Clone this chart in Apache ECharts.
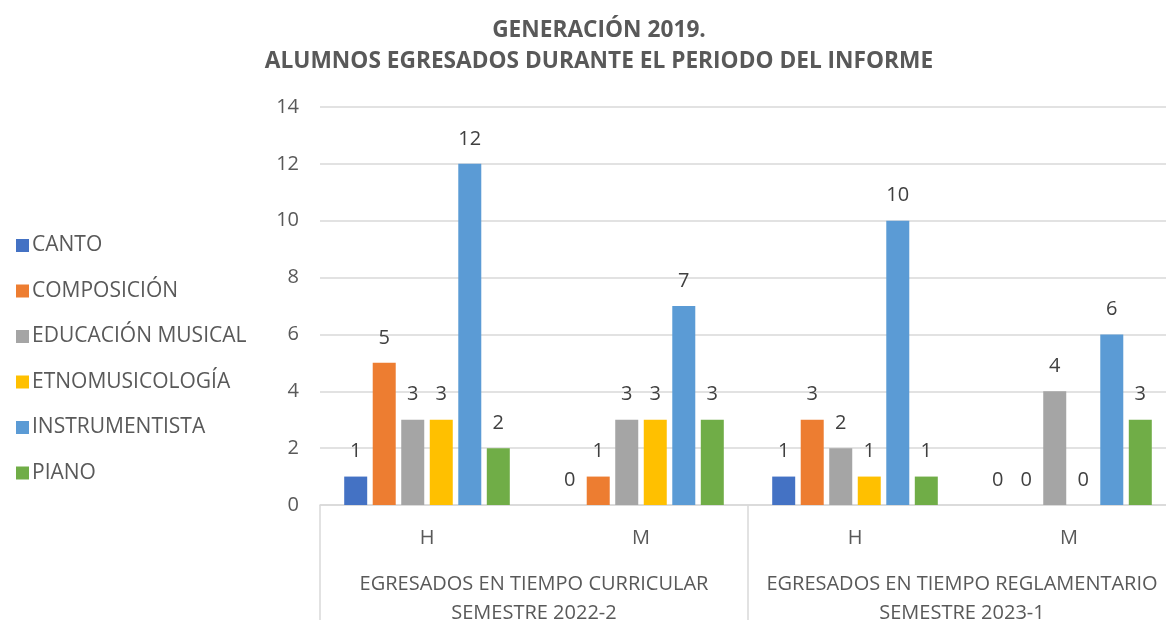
<!DOCTYPE html>
<html>
<head>
<meta charset="utf-8">
<script src="https://cdn.jsdelivr.net/npm/echarts@6/dist/echarts.min.js"></script>
<style>
  html, body { margin: 0; padding: 0; background: #fff; }
  #main { width: 1166px; height: 620px; }
</style>
</head>
<body>
<div id="main"></div>
<script>
// categorias (nivel 1 y nivel 2)
const subCategories = ['H', 'M', 'H', 'M']
const groupCategories = [
  'EGRESADOS EN TIEMPO CURRICULAR\nSEMESTRE 2022-2',
  'EGRESADOS EN TIEMPO REGLAMENTARIO\nSEMESTRE 2023-1'
]
// series
const seriesNames = ['CANTO', 'COMPOSICIÓN', 'EDUCACIÓN MUSICAL', 'ETNOMUSICOLOGÍA', 'INSTRUMENTISTA', 'PIANO']
const canto = [1, 0, 1, 0]
const composicion = [5, 1, 3, 0]
const educacionMusical = [3, 3, 2, 4]
const etnomusicologia = [3, 3, 1, 0]
const instrumentista = [12, 7, 10, 6]
const piano = [2, 3, 1, 3]
const yTicks = [0, 2, 4, 6, 8, 10, 12, 14]

const colors = ['#4472C4', '#ED7D31', '#A5A5A5', '#FFC000', '#5B9BD5', '#70AD47']
const seriesData = [canto, composicion, educacionMusical, etnomusicologia, instrumentista, piano]
const font = 'Open Sans'

const myChart = echarts.init(document.getElementById('main'))
const option = {
  animation: false,
  color: colors,
  textStyle: { fontFamily: font },
  title: {
    text: 'GENERACIÓN 2019.\nALUMNOS EGRESADOS DURANTE EL PERIODO DEL INFORME',
    left: 594,
    textAlign: 'center',
    top: 10,
    textStyle: {
      fontFamily: font,
      fontSize: 22.7,
      fontWeight: 'bold',
      color: '#595959',
      lineHeight: 31,
      align: 'center'
    }
  },
  legend: {
    orient: 'vertical',
    left: 11,
    top: 230,
    itemWidth: 13,
    itemHeight: 13,
    itemGap: 24.5,
    icon: 'rect',
    textStyle: { fontSize: 21, color: '#595959', fontFamily: font, padding: [0, 0, 0, -2] },
    data: seriesNames
  },
  grid: {
    left: 320,
    width: 856,
    top: 107,
    bottom: 115,
    outerBoundsMode: 'none'
  },
  xAxis: [{
    type: 'category',
    data: subCategories,
    axisLine: { lineStyle: { color: '#d9d9d9', width: 1.5 } },
    axisTick: { show: false },
    axisLabel: { fontSize: 20, color: '#595959', margin: 23 }
  }, {
    type: 'category',
    data: groupCategories,
    position: 'bottom',
    axisLine: { show: false },
    axisTick: { show: true, length: 120, lineStyle: { color: '#d9d9d9', width: 1.5 } },
    axisLabel: { fontSize: 20, color: '#595959', margin: 65, lineHeight: 29, interval: 0 },
    splitLine: { show: false }
  }],
  yAxis: {
    type: 'value',
    min: yTicks[0],
    max: yTicks[yTicks.length - 1],
    interval: 2,
    axisLine: { show: false },
    axisTick: { show: false },
    axisLabel: { fontSize: 20, color: '#595959', margin: 21 },
    splitLine: { lineStyle: { color: '#d9d9d9', width: 1.5 } }
  },
  series: seriesNames.map((name, i) => ({
    name: name,
    type: 'bar',
    xAxisIndex: 0,
    data: seriesData[i],
    barWidth: 23,
    barGap: '24%',
    label: {
      show: true,
      position: 'top',
      distance: 15,
      fontSize: 20,
      color: '#404040',
      fontFamily: font
    }
  }))
}
myChart.setOption(option)
</script>
</body>
</html>
